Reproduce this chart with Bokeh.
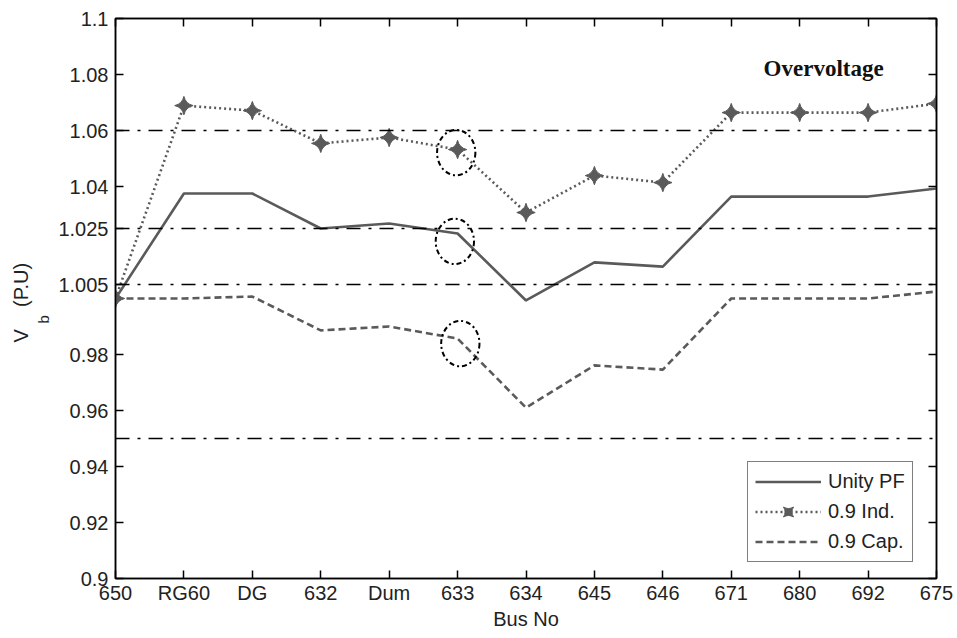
import math
from bokeh.plotting import figure
from bokeh.models import (Range1d, FixedTicker, Span, Label, LinearAxis, Legend, LegendItem, Title)
from bokeh.embed import file_html
from bokeh.resources import INLINE

# ---- data ----
buses = ["650", "RG60", "DG", "632", "Dum", "633", "634", "645", "646", "671", "680", "692", "675"]
unity_pf = [1.000, 1.0375, 1.0375, 1.025, 1.0268, 1.0232, 0.9993, 1.0129, 1.0114, 1.0364, 1.0364, 1.0364, 1.0393]
ind_09 = [1.000, 1.0689, 1.0671, 1.0554, 1.0575, 1.0532, 1.0307, 1.0439, 1.0414, 1.0664, 1.0664, 1.0664, 1.0696]
cap_09 = [1.000, 1.000, 1.0007, 0.9886, 0.9900, 0.9857, 0.9610, 0.9761, 0.9746, 1.000, 1.000, 1.000, 1.0025]
limit_levels = [1.06, 1.025, 1.005, 0.95]
y_ticks = [0.9, 0.92, 0.94, 0.96, 0.98, 1.005, 1.025, 1.04, 1.06, 1.08, 1.1]
y_tick_labels = ["0.9", "0.92", "0.94", "0.96", "0.98", "1.005", "1.025", "1.04", "1.06", "1.08", "1.1"]
circle_x = [4.98, 4.96, 5.04]
circle_y = [1.0521, 1.0204, 0.9839]

x = list(range(len(buses)))
FONT = "Liberation Sans"
FS = "20px"
LINE_C = "#5a5a5a"
TXT_C = "#222222"

p = figure(frame_width=821, frame_height=560, output_backend="svg", toolbar_location=None,
           x_range=Range1d(0, len(buses) - 1), y_range=Range1d(0.9, 1.1),
           min_border_left=115, min_border_right=21, min_border_top=18, min_border_bottom=60,
           background_fill_color="white", border_fill_color="white")
p.grid.visible = False
p.outline_line_color = "black"
p.outline_line_width = 1.5

# axes
p.xaxis.ticker = FixedTicker(ticks=x)
p.xaxis.major_label_overrides = {i: b for i, b in enumerate(buses)}
p.yaxis.ticker = FixedTicker(ticks=y_ticks)
p.yaxis.major_label_overrides = {v: s for v, s in zip(y_ticks, y_tick_labels)}
for ax in (p.xaxis[0], p.yaxis[0]):
    ax.major_tick_in = 8
    ax.major_tick_out = 0
    ax.minor_tick_line_color = None
    ax.axis_line_color = "black"
    ax.axis_line_width = 1.5
    ax.major_tick_line_width = 1.5
    ax.major_label_text_font = FONT
    ax.major_label_text_font_size = FS
    ax.major_label_text_color = TXT_C
p.xaxis.major_label_standoff = 3
p.yaxis.major_label_standoff = 7
p.xaxis.axis_label = "Bus No"
p.xaxis.axis_label_text_font = FONT
p.xaxis.axis_label_text_font_size = FS
p.xaxis.axis_label_text_font_style = "normal"
p.xaxis.axis_label_text_color = TXT_C
p.xaxis.axis_label_standoff = 1

# mirrored tick axes (box on)
right_ax = LinearAxis(ticker=FixedTicker(ticks=y_ticks))
top_ax = LinearAxis(ticker=FixedTicker(ticks=x))
for ax in (right_ax, top_ax):
    ax.major_tick_in = 8
    ax.major_tick_out = 0
    ax.minor_tick_line_color = None
    ax.major_label_text_color = None
    ax.major_label_standoff = 0
    ax.axis_line_color = "black"
    ax.axis_line_width = 1.5
    ax.major_tick_line_width = 1.5
p.add_layout(right_ax, "right")
p.add_layout(top_ax, "above")

# y-axis label with subscript, as side titles
t_sub = Title(text="b", text_font=FONT, text_font_size="15px", text_font_style="normal",
              text_color=TXT_C, align="left", offset=255, standoff=8, vertical_align="bottom")
t_main = Title(text="V\u00a0\u00a0\u00a0\u00a0(P.U)", text_font=FONT, text_font_size=FS,
               text_font_style="normal", text_color=TXT_C, align="left", offset=236,
               standoff=-7, vertical_align="bottom")
p.add_layout(t_sub, "left")
p.add_layout(t_main, "left")

# limit lines
for lv in limit_levels:
    p.add_layout(Span(location=lv, dimension="width", line_color="black",
                      line_width=1.5, line_dash="14 8 3 8"))

# series
r_unity = p.line(x, unity_pf, line_color=LINE_C, line_width=2.6)
r_ind = p.line(x, ind_09, line_color=LINE_C, line_width=2.6, line_dash="2 3")
r_ind_m = p.scatter(x, ind_09, marker="square_pin", angle=math.pi / 4, size=13,
                    fill_color=LINE_C, line_color=LINE_C)
r_cap = p.line(x, cap_09, line_color=LINE_C, line_width=2.6, line_dash="7 4")

# highlight ellipses
p.ellipse(x=circle_x, y=circle_y, width=0.56, height=0.0162, fill_color=None,
          line_color="black", line_width=2, line_dash="5 3 2 3")

# annotation
p.add_layout(Label(x=10.35, y=1.0821, text="Overvoltage", text_font="Liberation Serif",
                   text_font_style="bold", text_font_size="23px", text_color="#111111",
                   text_align="center", text_baseline="middle"))

legend = Legend(items=[LegendItem(label="Unity PF", renderers=[r_unity]),
                       LegendItem(label="0.9 Ind.", renderers=[r_ind, r_ind_m]),
                       LegendItem(label="0.9 Cap.", renderers=[r_cap])],
                location=(632, 16), border_line_color="black", border_line_width=1.5,
                background_fill_color="white", background_fill_alpha=1.0,
                label_text_font=FONT, label_text_font_size=FS, label_text_color=TXT_C,
                glyph_width=66, glyph_height=25, label_height=25, spacing=5, padding=7,
                label_standoff=7, margin=0)
p.add_layout(legend, "center")

open("out.html", "w").write(file_html(p, INLINE))
